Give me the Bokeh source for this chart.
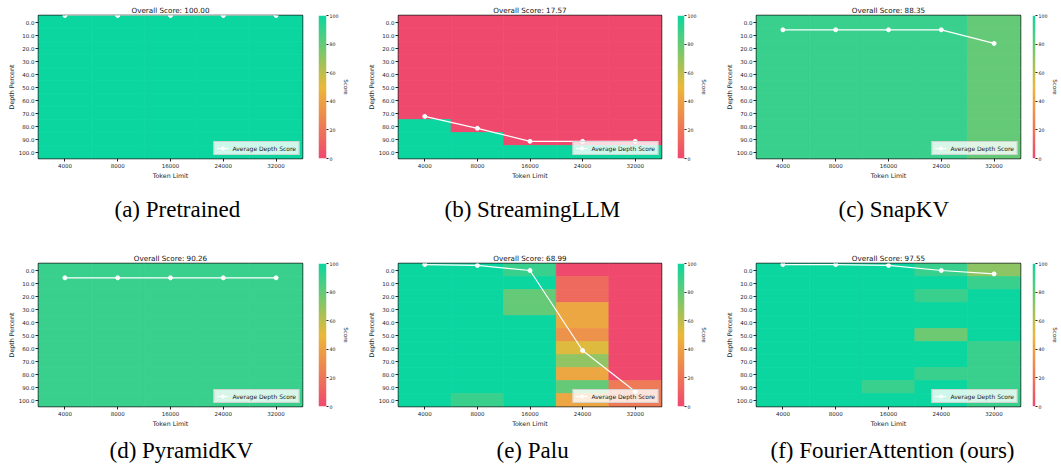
import numpy as np
from bokeh.plotting import figure
from bokeh.models import (ColumnDataSource, LinearColorMapper, Range1d,
                          FixedTicker, Title)
from bokeh.transform import transform
from bokeh.layouts import row, column
from bokeh.embed import file_html
from bokeh.resources import INLINE

# ---------------- data ----------------
token_limits = ["4000", "8000", "16000", "24000", "32000"]
depth_percents = ["0.0", "10.0", "20.0", "30.0", "40.0", "50.0",
                  "60.0", "70.0", "80.0", "90.0", "100.0"]
colorbar_ticks = [0, 20, 40, 60, 80, 100]

# rows = depth percent (top to bottom), columns = token limit
pretrained_scores = [
    [100, 100, 100, 100, 100], [100, 100, 100, 100, 100], [100, 100, 100, 100, 100],
    [100, 100, 100, 100, 100], [100, 100, 100, 100, 100], [100, 100, 100, 100, 100],
    [100, 100, 100, 100, 100], [100, 100, 100, 100, 100], [100, 100, 100, 100, 100],
    [100, 100, 100, 100, 100], [100, 100, 100, 100, 100],
]
streaming_scores = [
    [0, 0, 0, 0, 0], [0, 0, 0, 0, 0], [0, 0, 0, 0, 0], [0, 0, 0, 0, 0],
    [0, 0, 0, 0, 0], [0, 0, 0, 0, 0], [0, 0, 0, 0, 0], [0, 0, 0, 0, 0],
    [100, 0, 0, 0, 0], [100, 100, 0, 0, 0], [100, 100, 100, 100, 100],
]
snapkv_scores = [
    [90, 90, 90, 90, 80], [90, 90, 90, 90, 80], [90, 90, 90, 90, 80],
    [90, 90, 90, 90, 80], [90, 90, 90, 90, 80], [90, 90, 90, 90, 80],
    [90, 90, 90, 90, 80], [90, 90, 90, 90, 80], [90, 90, 90, 90, 80],
    [90, 90, 90, 90, 80], [90, 90, 90, 90, 80],
]
pyramid_scores = [
    [90, 90, 90, 90, 90], [90, 90, 90, 90, 90], [90, 90, 90, 90, 90],
    [90, 90, 90, 90, 90], [90, 90, 90, 90, 90], [90, 90, 90, 90, 90],
    [90, 90, 90, 90, 90], [90, 90, 90, 90, 90], [90, 90, 90, 90, 90],
    [90, 90, 90, 90, 90], [90, 90, 90, 90, 90],
]
palu_scores = [
    [100, 100, 90, 0, 0],
    [100, 100, 100, 15, 0],
    [100, 100, 80, 15, 0],
    [100, 100, 80, 42, 0],
    [100, 100, 100, 42, 0],
    [100, 100, 100, 33, 0],
    [100, 100, 100, 53, 0],
    [100, 100, 100, 70, 0],
    [100, 100, 100, 42, 0],
    [100, 100, 100, 80, 22],
    [100, 90, 100, 42, 22],
]
fourier_scores = [
    [100, 100, 100, 90, 71],
    [100, 100, 100, 100, 90],
    [100, 100, 100, 90, 100],
    [100, 100, 100, 100, 100],
    [100, 100, 100, 100, 100],
    [100, 100, 100, 78, 100],
    [100, 100, 100, 100, 90],
    [100, 100, 100, 100, 90],
    [100, 100, 100, 90, 90],
    [100, 100, 90, 100, 90],
    [100, 100, 100, 100, 90],
]

# average depth score line (per token limit)
pretrained_avg = [100, 100, 100, 100, 100]
streaming_avg = [22.4, 13.2, 3.2, 3.2, 3.2]
snapkv_avg = [89, 89, 89, 89, 78.5]
pyramid_avg = [89, 89, 89, 89, 89]
palu_avg = [99.2, 98.5, 94.6, 33.1, 1.5]
fourier_avg = [99.2, 99.2, 98.5, 94.6, 92]

overall_scores = ["100.00", "17.57", "88.35", "90.26", "68.99", "97.55"]
captions = ["(a) Pretrained", "(b) StreamingLLM", "(c) SnapKV",
            "(d) PyramidKV", "(e) Palu", "(f) FourierAttention (ours)"]

# ---------------- styling ----------------
SANS = "DejaVu Sans"
SERIF = "Liberation Serif"
stops = [(0.0, (0xF0, 0x49, 0x6E)), (0.5, (0xEB, 0xB8, 0x39)), (1.0, (0x0C, 0xD6, 0xA0))]


def build_palette(n=256):
    pal = []
    for k in range(n):
        t = k / (n - 1)
        for (t0, c0), (t1, c1) in zip(stops[:-1], stops[1:]):
            if t0 <= t <= t1:
                f = (t - t0) / (t1 - t0)
                c = [round(a + (b - a) * f) for a, b in zip(c0, c1)]
                pal.append("#%02x%02x%02x" % tuple(c))
                break
    return pal


palette = build_palette()
mapper = LinearColorMapper(palette=palette, low=0, high=100)

TOP = 15
N_ROWS = len(depth_percents)
N_COLS = len(token_limits)
row_centers = [j + 0.5 for j in range(N_ROWS)]
col_centers = [i + 0.5 for i in range(N_COLS)]


def make_heat(scores, avgs, overall, caption, left, frame_w, right,
              frame_h, bottom, cap_offset, cap_standoff):
    xs, ys, vals = [], [], []
    for j in range(N_ROWS):
        for i in range(N_COLS):
            xs.append(col_centers[i])
            ys.append(row_centers[j])
            vals.append(scores[j][i])
    src = ColumnDataSource(dict(x=xs, y=ys, score=vals))
    p = figure(x_range=Range1d(0, N_COLS),
               y_range=Range1d(start=N_ROWS, end=0),
               width=left + frame_w + right, height=TOP + frame_h + bottom,
               min_border_left=left, min_border_right=right,
               min_border_top=TOP, min_border_bottom=bottom,
               output_backend="svg", toolbar_location=None,
               title="Overall Score: " + overall)
    p.rect(x="x", y="y", width=1, height=1, source=src,
           fill_color=transform("score", mapper),
           line_color=transform("score", mapper), line_width=0.7)
    p.extra_y_ranges = {"avg": Range1d(start=-10, end=100)}
    p.line(col_centers, avgs, y_range_name="avg", line_color="white",
           line_width=1.2, legend_label="Average Depth Score")
    p.scatter(col_centers, avgs, y_range_name="avg", size=4, fill_color="white",
              line_color="white", legend_label="Average Depth Score")

    p.title.align = "center"
    p.title.text_font = SANS
    p.title.text_font_size = "7.2px"
    p.title.text_font_style = "normal"
    p.title.text_color = "#111111"
    p.title.standoff = 1

    p.grid.visible = False
    p.outline_line_color = "#1a1a1a"
    p.outline_line_width = 1.5
    p.background_fill_color = "white"

    p.xaxis.ticker = FixedTicker(ticks=col_centers)
    p.xaxis.major_label_overrides = {c: lab for c, lab in zip(col_centers, token_limits)}
    p.yaxis.ticker = FixedTicker(ticks=row_centers)
    p.yaxis.major_label_overrides = {c: lab for c, lab in zip(row_centers, depth_percents)}

    for ax in (p.xaxis[0], p.yaxis[0]):
        ax.axis_line_color = None
        ax.major_tick_in = 0
        ax.major_tick_out = 3
        ax.major_tick_line_color = "#222222"
        ax.minor_tick_line_color = None
        ax.major_label_text_font = SANS
        ax.major_label_text_font_size = "5.5px"
        ax.major_label_text_color = "#222222"
        ax.major_label_standoff = 1
        ax.axis_label_text_font = SANS
        ax.axis_label_text_font_size = "6.3px"
        ax.axis_label_text_font_style = "normal"
        ax.axis_label_text_color = "#222222"
        ax.axis_label_standoff = 1
    p.xaxis.axis_label = "Token Limit"
    p.yaxis.axis_label = "Depth Percent"
    p.xaxis.major_label_orientation = "horizontal"

    lg = p.legend[0]
    lg.location = "bottom_right"
    lg.label_text_font = SANS
    lg.label_text_font_size = "6px"
    lg.label_text_color = "#222222"
    lg.background_fill_color = "white"
    lg.background_fill_alpha = 0.8
    lg.border_line_color = "#cccccc"
    lg.border_line_alpha = 0.8
    lg.margin = 3
    lg.padding = 2
    lg.spacing = 0
    lg.glyph_width = 12
    lg.glyph_height = 8
    lg.label_height = 8
    lg.label_standoff = 4

    cap = Title(text=caption, align="left", text_font=SERIF, text_font_size="23px",
                text_font_style="normal", text_color="black",
                offset=cap_offset, standoff=cap_standoff)
    p.add_layout(cap, "below")
    return p


def make_cbar(left, right, frame_h, bottom):
    c = figure(x_range=Range1d(0, 1), y_range=Range1d(0, 100),
               width=left + 8 + right, height=TOP + frame_h + bottom,
               min_border_left=left, min_border_right=right,
               min_border_top=TOP, min_border_bottom=bottom,
               x_axis_location=None, y_axis_location="right",
               output_backend="svg", toolbar_location=None)
    grad = np.linspace(0, 100, 256).reshape(-1, 1)
    c.image(image=[grad], x=0, y=0, dw=1, dh=100, color_mapper=mapper)
    c.grid.visible = False
    c.outline_line_color = None
    ax = c.yaxis[0]
    ax.ticker = FixedTicker(ticks=colorbar_ticks)
    ax.axis_line_color = None
    ax.major_tick_in = 0
    ax.major_tick_out = 2
    ax.minor_tick_line_color = None
    ax.major_tick_line_color = "#222222"
    ax.major_label_text_font = SANS
    ax.major_label_text_font_size = "4.7px"
    ax.major_label_text_color = "#222222"
    ax.major_label_standoff = 1
    ax.axis_label = "Score"
    ax.axis_label_text_font = SANS
    ax.axis_label_text_font_size = "5.5px"
    ax.axis_label_text_font_style = "normal"
    ax.axis_label_text_color = "#222222"
    ax.axis_label_standoff = 2
    return c


all_scores = [pretrained_scores, streaming_scores, snapkv_scores,
              pyramid_scores, palu_scores, fourier_scores]
all_avgs = [pretrained_avg, streaming_avg, snapkv_avg,
            pyramid_avg, palu_avg, fourier_avg]

# heat left border, frame width, heat right border, cbar left, cbar right
col_geom = [
    (38, 264, 16, 0, 29),
    (43, 263, 16, 0, 25),
    (46, 264, 12, 0, 21),
]
row_frame_h = [143, 143]
row_bottom = [90, 63]
cap_offsets = [[76, 46, 82], [71, 98, 14]]
cap_standoff = [27, 13]

rows = []
k = 0
for r in range(2):
    items = []
    for cidx in range(3):
        hl, fw, hr, cl, cr = col_geom[cidx]
        h = make_heat(all_scores[k], all_avgs[k], overall_scores[k], captions[k],
                      hl, fw, hr, row_frame_h[r], row_bottom[r],
                      cap_offsets[r][cidx], cap_standoff[r])
        cb = make_cbar(cl, cr, row_frame_h[r], row_bottom[r])
        items += [h, cb]
        k += 1
    rows.append(row(*items, spacing=0))

layout = column(*rows, spacing=0)

open("out.html", "w").write(file_html(layout, INLINE))
